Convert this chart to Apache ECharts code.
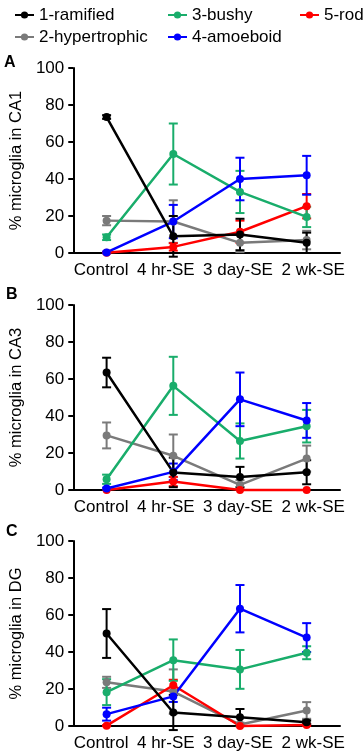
<!DOCTYPE html>
<html><head><meta charset="utf-8">
<script src="https://cdn.jsdelivr.net/npm/echarts@6/dist/echarts.min.js"></script>
<style>html,body{margin:0;padding:0;background:#fff}#c{width:363px;height:755px}</style>
</head><body><div id="c"></div>
<script>
// ---- data ----
const categories = ['Control', '4 hr-SE', '3 day-SE', '2 wk-SE'];
const seriesNames = ['1-ramified', '2-hypertrophic', '3-bushy', '4-amoeboid', '5-rod'];
const yAxisNames = ['% microglia in CA1', '% microglia in CA3', '% microglia in DG'];
const panelLetters = ['A', 'B', 'C'];
const yMin = 0, yMax = 100, yInterval = 20;

// CA1
const ca1Ramified     = [73.5, 9.0, 10.0, 5.5];
const ca1RamifiedErr  = [1.0, 11.0, 8.5, 5.5];
const ca1Hyper        = [17.5, 17.0, 5.5, 7.0];
const ca1HyperErr     = [2.5, 11.5, 5.0, 5.0];
const ca1Bushy        = [8.5, 53.5, 33.0, 19.5];
const ca1BushyErr     = [1.5, 16.5, 11.4, 5.5];
const ca1Amoeboid     = [0.3, 17.0, 40.0, 42.0];
const ca1AmoeboidErr  = [0.5, 9.0, 11.5, 10.5];
const ca1Rod          = [0.2, 3.3, 11.5, 25.3];
const ca1RodErr       = [0.3, 2.0, 6.0, 6.6];

// CA3
const ca3Ramified     = [63.5, 9.5, 7.0, 9.6];
const ca3RamifiedErr  = [8.0, 8.0, 5.5, 6.5];
const ca3Hyper        = [29.5, 18.5, 2.8, 17.0];
const ca3HyperErr     = [7.0, 11.5, 2.5, 7.0];
const ca3Bushy        = [5.8, 56.3, 26.5, 34.5];
const ca3BushyErr     = [2.5, 15.7, 9.5, 8.8];
const ca3Amoeboid     = [0.8, 9.8, 49.0, 37.6];
const ca3AmoeboidErr  = [0.5, 4.5, 14.5, 9.4];
const ca3Rod          = [0.0, 4.6, 0.0, 0.0];
const ca3RodErr       = [0.0, 2.5, 0.0, 0.0];

// DG
const dgRamified      = [50.0, 7.3, 4.7, 2.0];
const dgRamifiedErr   = [13.2, 9.5, 4.5, 1.0];
const dgHyper         = [23.6, 18.6, 0.8, 8.4];
const dgHyperErr      = [3.0, 12.0, 1.0, 4.5];
const dgBushy         = [18.3, 35.6, 30.6, 39.6];
const dgBushyErr      = [7.0, 11.2, 10.5, 3.5];
const dgAmoeboid      = [6.4, 16.0, 63.4, 47.8];
const dgAmoeboidErr   = [3.5, 3.0, 12.8, 7.8];
const dgRod           = [0.2, 22.0, 0.0, 0.5];
const dgRodErr        = [0.3, 3.0, 0.0, 0.5];

// ---- styling / layout ----
const colors = ['#000000', '#7a7a7a', '#19ad6b', '#0000ff', '#ff0000'];
const drawOrder = [1, 4, 2, 3, 0];
const FONT = 'Liberation Sans, Arial, sans-serif';
const gridTops = [68, 305, 541];
const gridHeight = 185;
const letterTops = [55, 287, 524];
// label paddings that nudge each x label like the original's evenly spaced label row
const labelPads = [[0, 11, 0, 0], [0, 15, 0, 0], [0, 4, 0, 0], [0, 0, 0, 13]];

const panels = [
  { values: [ca1Ramified, ca1Hyper, ca1Bushy, ca1Amoeboid, ca1Rod],
    errors: [ca1RamifiedErr, ca1HyperErr, ca1BushyErr, ca1AmoeboidErr, ca1RodErr] },
  { values: [ca3Ramified, ca3Hyper, ca3Bushy, ca3Amoeboid, ca3Rod],
    errors: [ca3RamifiedErr, ca3HyperErr, ca3BushyErr, ca3AmoeboidErr, ca3RodErr] },
  { values: [dgRamified, dgHyper, dgBushy, dgAmoeboid, dgRod],
    errors: [dgRamifiedErr, dgHyperErr, dgBushyErr, dgAmoeboidErr, dgRodErr] }
];

function errRender(params, api) {
  const x = api.value(0), lo = api.value(1), hi = api.value(2);
  if (hi - lo <= 0) return null;
  const t = api.coord([x, hi]);
  const b = api.coord([x, lo]);
  const w = 4.5;
  const st = { stroke: api.visual('color'), lineWidth: 2 };
  return { type: 'group', children: [
    { type: 'line', shape: { x1: t[0], y1: t[1], x2: b[0], y2: b[1] }, style: st },
    { type: 'line', shape: { x1: t[0] - w, y1: t[1], x2: t[0] + w, y2: t[1] }, style: st },
    { type: 'line', shape: { x1: b[0] - w, y1: b[1], x2: b[0] + w, y2: b[1] }, style: st }
  ]};
}

const rich = {};
labelPads.forEach((pd, i) => {
  rich['l' + i] = { padding: pd, fontSize: 17, fontFamily: FONT, color: '#000' };
});

const grids = [], xAxes = [], yAxes = [], series = [], graphics = [];
panels.forEach((p, gi) => {
  grids.push({ left: 60, right: 23, top: gridTops[gi], height: gridHeight, containLabel: false });
  xAxes.push({
    type: 'category', gridIndex: gi, data: categories, boundaryGap: true,
    axisLine: { show: true, lineStyle: { color: '#000', width: 2 } },
    axisTick: { show: false },
    axisLabel: { color: '#000', fontSize: 17, fontFamily: FONT, margin: 9, interval: 0,
      formatter: (v, i) => '{l' + i + '|' + v + '}', rich: rich },
    splitLine: { show: false }
  });
  yAxes.push({
    type: 'value', gridIndex: gi, min: yMin, max: yMax, interval: yInterval,
    name: yAxisNames[gi], nameLocation: 'middle', nameGap: 40,
    nameTextStyle: { color: '#000', fontSize: 16.5, fontFamily: FONT },
    axisLine: { show: true, lineStyle: { color: '#000', width: 2 } },
    axisTick: { show: true, inside: false, length: 5, lineStyle: { color: '#000', width: 2 } },
    axisLabel: { color: '#000', fontSize: 17, fontFamily: FONT, margin: 9 },
    splitLine: { show: false }
  });
  graphics.push({ type: 'text', left: gi === 0 ? 4 : 6, top: letterTops[gi],
    style: { text: panelLetters[gi], font: 'bold 16px ' + FONT, fill: '#000' } });
});

panels.forEach((p, gi) => {
  drawOrder.forEach((si) => {
    series.push({
      type: 'line', name: seriesNames[si], xAxisIndex: gi, yAxisIndex: gi,
      data: p.values[si], color: colors[si],
      symbol: 'circle', symbolSize: 8, showSymbol: true,
      lineStyle: { width: 2.5, color: colors[si] },
      itemStyle: { color: colors[si] },
      z: 3, animation: false, clip: false
    });
  });
});
panels.forEach((p, gi) => {
  drawOrder.forEach((si) => {
    series.push({
      type: 'custom', name: seriesNames[si] + ' SEM', xAxisIndex: gi, yAxisIndex: gi,
      data: p.values[si].map((v, i) => [i, v - p.errors[si][i], v + p.errors[si][i]]),
      encode: { x: 0, y: [1, 2] },
      itemStyle: { color: colors[si] },
      renderItem: errRender, z: 2, animation: false, clip: false
    });
  });
});

const legendBase = {
  orient: 'vertical', top: 1, itemWidth: 19, itemHeight: 9, itemGap: 4, itemTextGap: 6,
  textStyle: { color: '#000', fontSize: 17, fontFamily: FONT, lineHeight: 18 }
};
const option = {
  animation: false,
  textStyle: { fontFamily: FONT },
  grid: grids, xAxis: xAxes, yAxis: yAxes, series: series,
  legend: [
    Object.assign({}, legendBase, { left: 9, data: [seriesNames[0], seriesNames[1]] }),
    Object.assign({}, legendBase, { left: 162, data: [seriesNames[2], seriesNames[3]] }),
    Object.assign({}, legendBase, { left: 294, data: [seriesNames[4]] })
  ],
  graphic: graphics
};
const chart = echarts.init(document.getElementById('c'), null, { renderer: 'canvas' });
chart.setOption(option);
</script></body></html>
